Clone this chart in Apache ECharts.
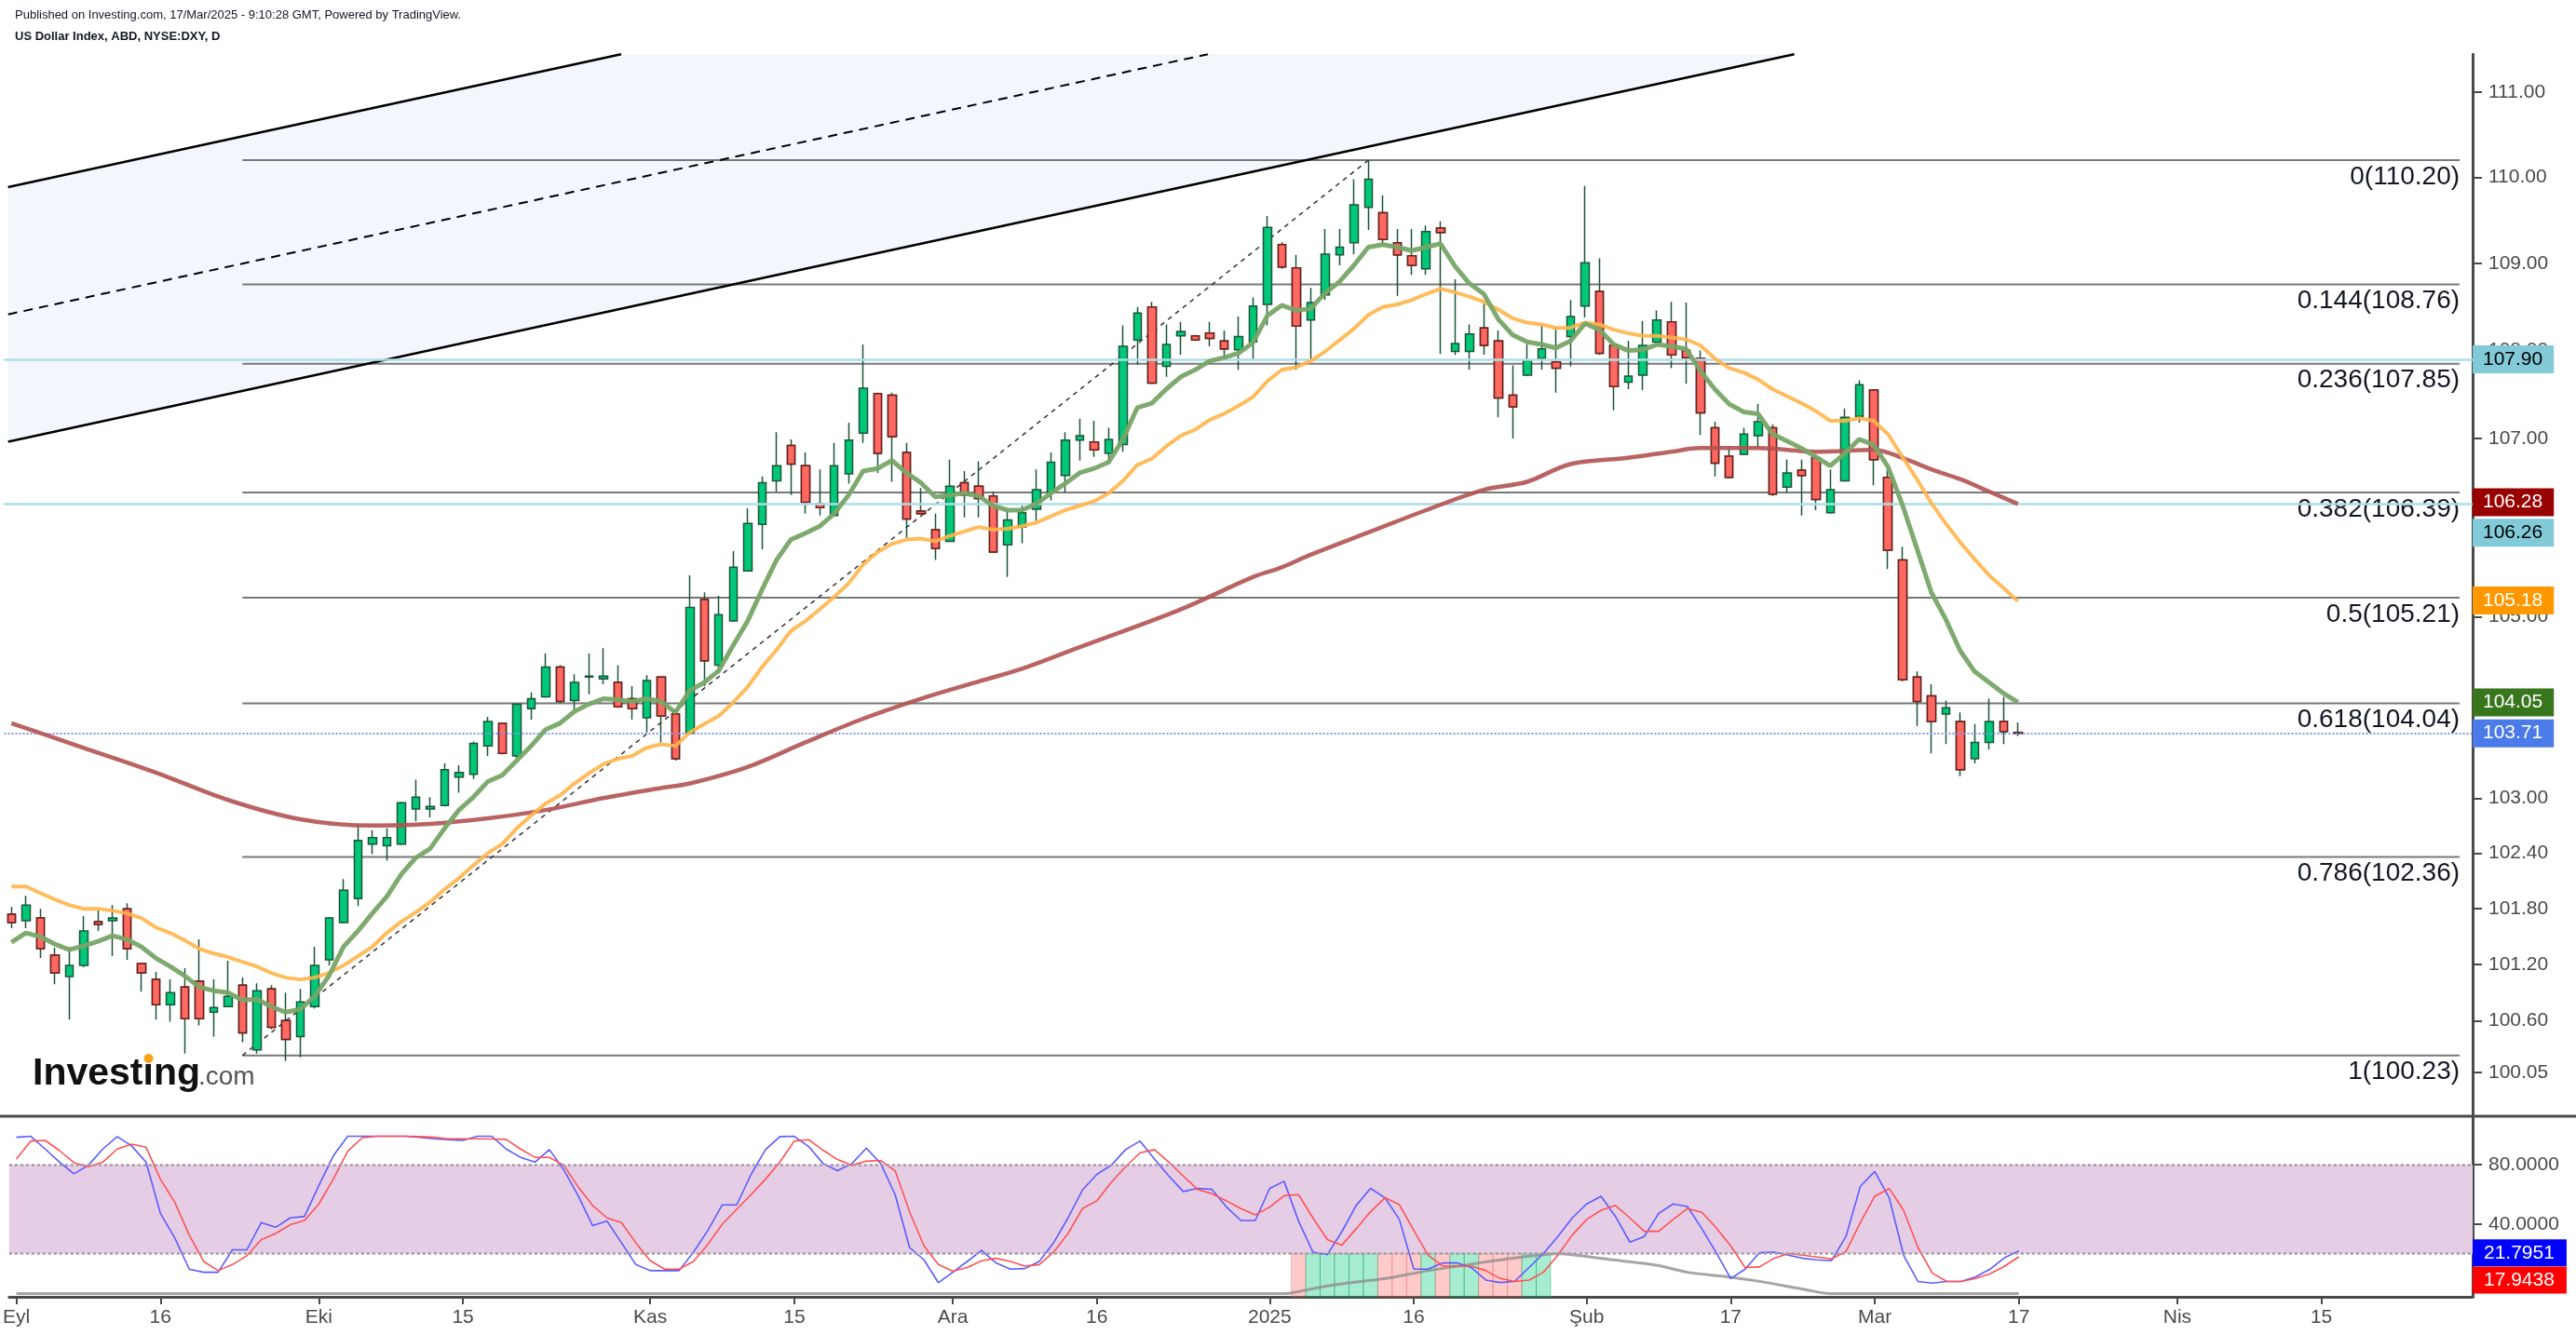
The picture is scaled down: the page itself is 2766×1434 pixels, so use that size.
<!DOCTYPE html>
<html>
<head>
<meta charset="utf-8">
<title>US Dollar Index</title>
<script src="https://cdn.jsdelivr.net/npm/echarts@6/dist/echarts.min.js"></script>
<style>
html,body{margin:0;padding:0;background:#ffffff;}
#chart{width:2766px;height:1434px;}
</style>
</head>
<body>
<div id="chart"></div>
<script>
// ---------------- DATA ----------------
const firstDay = '2024-09-02';
const closedDays = ['2025-01-01'];
const totalSlots = 171;

const opens = [101.74,101.67,101.70,101.30,101.07,101.19,101.66,101.67,101.80,101.21,
101.04,100.77,100.96,101.02,100.69,100.75,100.98,100.29,100.94,100.60,
100.43,100.75,101.25,101.65,101.91,102.50,102.48,102.50,102.88,102.88,
102.92,103.23,103.26,103.57,103.82,103.46,103.98,104.11,104.44,104.07,
104.33,104.31,104.27,104.09,103.88,104.33,103.92,103.71,105.19,104.46,
104.95,105.51,106.03,106.52,106.92,106.69,106.26,106.13,106.60,107.06,
107.51,107.49,106.84,106.18,105.97,105.84,106.50,106.46,106.35,105.80,
106.00,106.20,106.39,106.58,106.98,106.96,106.83,106.93,108.12,108.50,
107.82,108.17,108.17,108.20,108.11,108.01,108.10,108.53,109.22,108.95,
108.35,108.64,109.10,109.24,109.65,109.59,109.24,109.09,108.94,109.41,
107.99,107.99,108.26,108.11,107.49,107.72,107.91,107.87,108.16,108.51,
108.68,108.06,107.64,107.72,108.10,108.33,108.00,107.91,107.12,106.80,
106.82,107.03,107.12,106.45,106.64,106.78,106.16,106.52,107.25,107.55,
106.56,105.63,104.33,104.12,103.92,103.84,103.43,103.61,103.84,103.72];

const closes = [101.65,101.84,101.37,101.11,101.19,101.56,101.63,101.70,101.37,101.11,
100.77,100.90,100.62,100.62,100.74,100.86,100.47,100.92,100.53,100.40,
100.80,101.19,101.70,102.00,102.54,102.57,102.57,102.95,103.01,102.91,
103.31,103.28,103.60,103.84,103.49,104.03,104.09,104.44,104.06,104.27,
104.34,104.34,104.00,103.98,104.29,103.90,103.43,105.10,104.51,105.02,
105.55,106.04,106.50,106.69,106.71,106.28,106.22,106.69,106.98,107.57,
106.83,107.02,106.09,106.15,105.76,106.46,106.36,106.32,105.72,106.08,
106.16,106.42,106.73,106.98,107.03,106.87,106.99,108.05,108.43,107.63,
108.07,108.22,108.12,108.14,108.02,108.16,108.51,109.42,108.96,108.28,
108.55,109.11,109.19,109.68,109.98,109.28,109.10,108.98,109.37,109.36,
108.08,108.19,108.06,107.46,107.36,107.89,108.02,107.80,108.39,109.01,
107.97,107.59,107.71,108.06,108.35,107.95,107.92,107.29,106.72,106.56,
107.05,107.19,106.37,106.61,106.58,106.31,106.42,107.24,107.61,106.76,
105.74,104.30,104.06,103.84,103.99,103.31,103.61,103.84,103.73,103.71];

const lows = [101.59,101.59,101.27,100.99,100.61,101.17,101.56,101.29,101.25,100.91,
100.61,100.59,100.25,100.55,100.43,100.75,100.37,100.25,100.51,100.17,
100.21,100.73,101.19,101.64,101.83,102.39,102.32,102.49,102.75,102.79,
102.91,103.06,103.21,103.46,103.48,103.44,103.86,104.10,104.04,103.96,
104.14,104.25,103.99,103.86,103.72,103.61,103.41,103.70,104.23,104.37,
104.94,105.50,105.75,106.40,106.36,106.15,106.13,106.12,106.49,106.95,
106.61,106.51,105.88,106.15,105.63,105.84,106.11,106.11,105.71,105.44,
105.82,106.07,106.30,106.39,106.75,106.79,106.73,106.85,107.84,107.62,
107.70,107.95,108.11,108.05,107.91,107.78,107.90,108.29,108.94,107.78,
107.88,108.58,108.98,109.11,109.39,109.22,108.63,108.87,108.87,107.96,
107.95,107.78,107.95,107.24,107.00,107.71,107.78,107.52,107.82,108.38,
107.95,107.32,107.56,107.55,108.09,107.80,107.62,107.04,106.57,106.55,
106.81,106.90,106.35,106.39,106.13,106.19,106.15,106.51,107.18,106.47,
105.53,104.28,103.79,103.49,103.59,103.24,103.38,103.53,103.59,103.68];

const highs = [101.82,101.94,101.80,101.38,101.39,101.72,101.78,101.84,101.86,101.21,
101.12,101.04,101.16,101.47,101.04,101.24,101.06,101.00,100.98,100.90,
100.94,101.39,101.71,102.12,102.71,102.65,102.67,102.96,103.20,103.01,
103.38,103.36,103.62,103.89,103.83,104.04,104.16,104.59,104.46,104.36,
104.59,104.65,104.46,104.23,104.35,104.33,103.96,105.46,105.27,105.23,
105.73,106.21,106.57,107.07,106.99,106.84,106.65,106.95,107.18,108.07,
107.52,107.52,106.95,106.44,106.15,106.76,106.63,106.74,106.40,106.19,
106.24,106.65,106.84,107.07,107.22,107.20,107.12,108.29,108.50,108.56,
108.30,108.33,108.18,108.33,108.23,108.39,108.61,109.55,109.25,109.10,
108.72,109.40,109.40,109.98,110.20,109.79,109.40,109.40,109.44,109.49,
108.82,108.30,108.54,108.23,107.83,108.07,108.31,108.27,108.58,109.90,
109.06,108.07,108.11,108.34,108.46,108.56,108.55,108.00,107.19,106.91,
107.12,107.39,107.16,106.76,106.76,106.81,106.65,107.34,107.66,107.56,
106.65,105.78,104.39,104.25,104.07,103.94,103.81,104.09,104.11,103.83];

const maFast = [101.44,101.54,101.50,101.42,101.36,101.40,101.45,101.51,101.47,101.39,
101.27,101.18,101.08,100.96,100.92,100.90,100.82,100.83,100.75,100.69,
100.72,100.86,101.08,101.39,101.56,101.75,101.93,102.17,102.35,102.45,
102.67,102.87,103.01,103.18,103.25,103.41,103.57,103.75,103.82,103.95,
104.03,104.09,104.08,104.06,104.09,104.06,103.94,104.18,104.27,104.40,
104.68,104.95,105.30,105.63,105.86,105.93,106.01,106.15,106.36,106.63,
106.66,106.75,106.61,106.50,106.34,106.36,106.38,106.35,106.24,106.19,
106.19,106.26,106.38,106.49,106.61,106.66,106.73,106.99,107.35,107.40,
107.56,107.70,107.78,107.88,107.92,107.97,108.09,108.40,108.52,108.46,
108.48,108.66,108.79,108.98,109.19,109.22,109.19,109.15,109.19,109.23,
108.97,108.77,108.65,108.36,108.18,108.10,108.07,108.03,108.11,108.31,
108.24,108.07,108.00,108.01,108.07,108.05,108.02,107.77,107.56,107.39,
107.30,107.28,107.05,106.97,106.89,106.79,106.69,106.83,106.99,106.93,
106.68,106.25,105.76,105.27,104.97,104.62,104.39,104.27,104.15,104.05];

const maMid = [102.04,102.04,101.97,101.90,101.84,101.80,101.80,101.78,101.75,101.70,
101.60,101.54,101.46,101.37,101.32,101.28,101.23,101.18,101.11,101.06,
101.04,101.06,101.11,101.19,101.29,101.39,101.54,101.66,101.76,101.87,
102.01,102.13,102.27,102.40,102.50,102.67,102.81,102.94,103.03,103.16,
103.27,103.37,103.43,103.46,103.55,103.59,103.57,103.72,103.81,103.90,
104.05,104.22,104.44,104.63,104.84,104.95,105.08,105.22,105.37,105.58,
105.72,105.81,105.86,105.87,105.84,105.90,105.95,106.00,105.97,105.98,
106.01,106.05,106.12,106.19,106.24,106.29,106.38,106.52,106.70,106.77,
106.91,107.03,107.10,107.21,107.28,107.37,107.47,107.65,107.78,107.81,
107.88,107.99,108.12,108.25,108.41,108.50,108.53,108.58,108.65,108.71,
108.67,108.62,108.56,108.47,108.37,108.32,108.30,108.26,108.26,108.32,
108.30,108.24,108.20,108.17,108.17,108.15,108.13,108.06,107.91,107.80,
107.75,107.67,107.56,107.48,107.40,107.31,107.20,107.20,107.23,107.20,
107.05,106.79,106.54,106.27,106.04,105.83,105.64,105.46,105.32,105.17];

const maSlowIdx = [0,5,10,15,20,25,29,33,37,41,45,47,51,55,59,63,67,70,74,81,86,88,90,94,98,102,105,108,112,115,117,121,125,129,131,133,135,137,139];
const maSlowVal = [103.82,103.55,103.28,102.98,102.77,102.70,102.72,102.78,102.87,103.00,
103.11,103.16,103.34,103.61,103.87,104.09,104.28,104.42,104.66,105.08,
105.44,105.55,105.69,105.94,106.19,106.42,106.51,106.71,106.78,106.85,
106.89,106.89,106.85,106.87,106.78,106.65,106.54,106.40,106.26];

const stochK = [98.4,99.1,90.5,81.7,73.8,79.6,90.5,98.9,92.6,81.7,
47.2,30.5,9.6,7.5,7.5,22.6,22.6,41.0,37.8,44.1,
45.1,66.0,85.9,99.1,99.1,99.1,99.1,99.1,98.4,97.4,
96.8,96.3,99.1,99.1,90.5,84.9,81.7,90.1,76.5,59.1,
38.9,42.0,27.4,12.7,8.6,8.6,8.6,21.1,35.7,52.9,
52.9,73.4,90.1,98.9,99.1,92.2,80.7,75.9,80.7,91.1,
80.7,59.8,24.2,15.9,0.5,7.5,14.8,22.2,13.8,9.6,
10.0,14.8,27.4,44.1,62.9,73.4,79.6,90.1,95.9,83.8,
72.3,61.9,64.0,63.3,51.4,42.4,42.4,64.0,68.8,42.0,
21.1,19.4,34.7,52.5,64.0,57.7,43.1,9.6,9.6,13.8,
13.8,10.7,2.3,0.6,1.3,10.7,20.1,31.6,44.1,53.5,
58.7,45.1,27.8,31.6,47.2,53.5,51.8,36.8,20.7,3.3,
9.6,20.7,21.1,19.0,16.9,15.9,15.3,31.6,65.4,75.4,
57.7,19.0,1.3,0.2,1.3,1.3,4.4,9.6,17.3,21.7951];

const stochD = [83.8,95.9,96.3,89.4,81.3,78.6,81.7,90.5,93.8,91.7,
70.2,54.5,32.6,14.8,8.6,12.7,18.6,29.5,33.6,39.5,
42.4,53.5,70.2,89.0,98.0,99.1,99.1,99.1,98.9,98.4,
97.4,97.4,97.4,97.2,97.0,90.5,84.9,84.9,79.6,65.0,
52.5,44.1,41.0,27.4,15.3,9.6,9.6,14.8,26.3,39.9,
49.9,59.8,70.2,81.7,95.9,96.8,89.7,83.4,79.6,82.3,
82.8,75.9,48.3,25.3,12.7,8.2,10.7,15.3,16.9,14.8,
11.7,12.7,21.1,33.6,50.4,55.6,68.1,78.6,88.0,90.1,
81.7,72.3,63.3,60.4,55.6,50.4,46.2,51.4,59.1,59.8,
44.1,29.5,25.7,36.8,48.3,57.7,53.1,35.7,19.0,11.7,
11.7,11.7,8.6,3.3,1.3,2.3,7.5,19.0,32.6,43.1,
49.3,52.5,44.1,35.1,35.1,43.1,50.4,47.9,37.4,25.3,
10.7,11.1,16.9,20.1,19.0,17.8,16.5,21.5,41.0,58.7,
63.9,49.3,24.2,6.9,1.3,1.3,3.3,6.5,11.5,17.9438];

const grayIdx = [0,88,90,92,95,98,101,104,107,108,111,114,116,119,121,124,126,139];
const grayVal = [-6.9,-6.9,-3.5,-0.3,3.3,8.6,13.0,17.1,20.0,19.4,15.7,12.0,7.5,4.2,1.4,-3.8,-6.9,-6.9];

const signalIdx = [89,90,91,92,93,94,95,96,97,98,99,100,101,102,103,104,105,106];
const signalDir = [-1,1,1,1,1,1,-1,-1,-1,1,-1,1,1,-1,-1,-1,1,1];

const fibLevels = [110.20,108.76,107.85,106.39,105.21,104.04,102.36,100.23];
const fibRatios = ['0','0.144','0.236','0.382','0.5','0.618','0.786','1'];
const fibAnchorIdx = [16, 94];
const fibEndIdx = 169.6;

const channelUpper = [[-0.23,109.886],[42.24,111.445]];
const channelMid   = [[-0.23,108.415],[82.89,111.445]];
const channelLower = [[-0.23,106.963],[123.51,111.445]];

const hLevels = [107.90, 106.26];
const lastPrice = 103.71;

const priceBadges = [107.90, 106.28, 106.26, 105.18, 104.05, 103.71];
const stochBadges = [21.7951, 17.9438];

const priceTicks = [111,110,109,108,107,106,105,104,103,102.4,101.8,101.2,100.6,100.05];
const stochTicks = [80,40];
const stochBand = [20,80];
const xTickIdx = [0,10,21,31,44,54,65,75,87,97,109,119,129,139,150,160];
const xTickText = ['Eyl','16','Eki','15','Kas','15','Ara','16','2025','16','Şub','17','Mar','17','Nis','15'];

// ---------------- BUILD ----------------
const FONT = "'Liberation Sans', Arial, Helvetica, sans-serif";
const dates = [];
(function(){
  let t = Date.parse(firstDay + 'T00:00:00Z');
  while (dates.length < totalSlots) {
    const d = new Date(t);
    const wd = d.getUTCDay();
    const s = d.toISOString().slice(0,10);
    if (wd !== 0 && wd !== 6 && closedDays.indexOf(s) < 0) dates.push(s);
    t += 86400000;
  }
})();

const candles = opens.map((o,i)=>[o, closes[i], lows[i], highs[i]]);
const downBodies = opens.map((o,i)=> closes[i] < o ? [o, closes[i], closes[i], o] : '-');
const labelAt = {};
xTickIdx.forEach((x,k)=>{ labelAt[x] = xTickText[k]; });
const showTick = (i)=> Object.prototype.hasOwnProperty.call(labelAt, i);

const yMin = 99.587, yMax = 111.445;
const sMin = -9.03, sMax = 112.6;

const priceBadgeStyle = [
  {bg:'#82cad8', fg:'#000000', dy:0},
  {bg:'#990000', fg:'#ffffff', dy:0},
  {bg:'#82cad8', fg:'#000000', dy:31},
  {bg:'#ff9800', fg:'#ffffff', dy:0},
  {bg:'#38761d', fg:'#ffffff', dy:0},
  {bg:'#4a7be9', fg:'#ffffff', dy:0}
];
const stochBadgeStyle = [
  {bg:'#0000ff', fg:'#ffffff', dy:2},
  {bg:'#ff0000', fg:'#ffffff', dy:25}
];

function badgeRenderer(vals, styles, digits){
  return function(params, api){
    const k = params.dataIndex;
    const st = styles[k];
    const y = api.coord([0, vals[k]])[1] + st.dy;
    const x = params.coordSys.x + params.coordSys.width;
    return {
      type:'text', x:x, y:y, z2:50,
      style:{text: vals[k].toFixed(digits), fill: st.fg, font: '21px ' + FONT,
        align:'left', verticalAlign:'middle', backgroundColor: st.bg,
        padding: digits === 2 ? [5,12,4,11] : [4,13,4,12]}
    };
  };
}

const chart = echarts.init(document.getElementById('chart'), null, {renderer:'canvas', width:2766, height:1434});

const option = {
  animation:false,
  backgroundColor:'#ffffff',
  textStyle:{fontFamily: FONT},
  grid:[
    {left:4.5, top:58.2, width:2650.5, height:1140.8},
    {left:4.5, top:1199, width:2650.5, height:194}
  ],
  xAxis:[
    {type:'category', gridIndex:0, data:dates, boundaryGap:true, show:false},
    {type:'category', gridIndex:1, data:dates, boundaryGap:true,
      axisLine:{show:true, onZero:false, lineStyle:{color:'#4a4a4a', width:3}},
      axisTick:{show:true, interval:(i)=>showTick(i), alignWithLabel:true, length:8, lineStyle:{color:'#4a4a4a', width:2}},
      axisLabel:{show:true, interval:(i)=>showTick(i), formatter:(v,i)=>labelAt[i] || '', fontSize:21, color:'#4a4a4a', margin:12, fontFamily:FONT},
      splitLine:{show:false}},
    {type:'value', gridIndex:0, min:-0.5, max:totalSlots-0.5, show:false}
  ],
  yAxis:[
    {type:'log', logBase:10, gridIndex:0, position:'right', min:yMin, max:yMax,
      axisLine:{show:true, onZero:false, lineStyle:{color:'#4a4a4a', width:3}},
      axisTick:{show:true, customValues:priceTicks, length:10, lineStyle:{color:'#4a4a4a', width:2}},
      axisLabel:{show:true, customValues:priceTicks, formatter:(v)=>Number(v).toFixed(2), fontSize:21, color:'#4a4a4a', margin:17, fontFamily:FONT},
      splitLine:{show:false}},
    {type:'value', gridIndex:1, position:'right', min:sMin, max:sMax,
      axisLine:{show:true, onZero:false, lineStyle:{color:'#4a4a4a', width:3}},
      axisTick:{show:true, customValues:stochTicks, length:10, lineStyle:{color:'#4a4a4a', width:2}},
      axisLabel:{show:true, customValues:stochTicks, formatter:(v)=>Number(v).toFixed(4), fontSize:21, color:'#4a4a4a', margin:17, fontFamily:FONT},
      splitLine:{show:false}}
  ],
  graphic:[
    {type:'text', x:16, y:16, z:100, style:{text:'Published on Investing.com, 17/Mar/2025 - 9:10:28 GMT, Powered by TradingView.', font:'13px ' + FONT, fill:'#131722', verticalAlign:'middle'}},
    {type:'text', x:16, y:39, z:100, style:{text:'US Dollar Index, ABD, NYSE:DXY, D', font:'bold 13px ' + FONT, fill:'#131722', verticalAlign:'middle'}},
    {type:'line', z:100, shape:{x1:0, y1:1199, x2:2766, y2:1199}, style:{stroke:'#4a4a4a', lineWidth:3}},
    {type:'text', x:35, y:1174, z:100, style:{text:'Investing', font:'bold 41px ' + FONT, fill:'#111111', verticalAlign:'bottom'}},
    {type:'text', x:213, y:1171, z:100, style:{text:'.com', font:'28px ' + FONT, fill:'#555555', verticalAlign:'bottom'}},
    {type:'circle', z:101, shape:{cx:159.5, cy:1137, r:5}, style:{fill:'#f7a21b'}}
  ],
  series:[
    // channel fill
    {type:'custom', name:'channel', xAxisIndex:2, yAxisIndex:0, z:1, silent:true, clip:true,
      data:[[0, 105]],
      renderItem:(params, api)=>{
        const pts = [channelUpper[0], channelUpper[1], channelLower[1], channelLower[0]].map(p=>api.coord(p));
        return {type:'polygon', shape:{points:pts}, style:{fill:'#f4f6fd'}};
      }},
    {type:'line', xAxisIndex:2, yAxisIndex:0, data:channelUpper, showSymbol:false, silent:true, z:2,
      lineStyle:{color:'#000000', width:2.5}},
    {type:'line', xAxisIndex:2, yAxisIndex:0, data:channelMid, showSymbol:false, silent:true, z:2,
      lineStyle:{color:'#000000', width:2, type:[10,7]}},
    {type:'line', xAxisIndex:2, yAxisIndex:0, data:channelLower, showSymbol:false, silent:true, z:2,
      lineStyle:{color:'#000000', width:2.5}},
    // fib levels
    {type:'custom', name:'fib', xAxisIndex:2, yAxisIndex:0, z:2, silent:true,
      data: fibLevels.map((v,k)=>[k, v]),
      renderItem:(params, api)=>{
        const k = params.dataIndex;
        const lvl = fibLevels[k];
        const a = api.coord([fibAnchorIdx[0], lvl]);
        const b = api.coord([fibEndIdx, lvl]);
        return {type:'group', children:[
          {type:'line', shape:{x1:a[0], y1:a[1], x2:b[0], y2:b[1]}, style:{stroke:'#787878', lineWidth:2}},
          {type:'text', x:b[0], y:b[1] + 18, style:{text: fibRatios[k] + '(' + lvl.toFixed(2) + ')', font:'28px ' + FONT, fill:'#131722', align:'right', verticalAlign:'middle'}}
        ]};
      }},
    {type:'line', xAxisIndex:2, yAxisIndex:0, showSymbol:false, silent:true, z:2,
      data: fibAnchorIdx.map((x,k)=>[x, k === 0 ? fibLevels[7] : fibLevels[0]]),
      lineStyle:{color:'#333333', width:1.5, type:[5,5]}},
    // candles
    {type:'candlestick', name:'DXY', xAxisIndex:0, yAxisIndex:0, z:3, data:candles, barWidth:9,
      itemStyle:{color:'#00c878', color0:'#ff6961', borderColor:'#1b5538', borderColor0:'#1b5538', borderWidth:1.5},
      markLine:{silent:true, symbol:['none','none'], label:{show:false}, animation:false,
        data:[
          {yAxis:hLevels[0], lineStyle:{color:'#addde7', width:2.5, type:'solid'}},
          {yAxis:hLevels[1], lineStyle:{color:'#addde7', width:2.5, type:'solid'}},
          {yAxis:lastPrice, lineStyle:{color:'#7f96ee', width:2, type:[2,2]}}
        ]}},
    {type:'candlestick', name:'down bodies', xAxisIndex:0, yAxisIndex:0, z:4, data:downBodies, barWidth:9, silent:true,
      itemStyle:{color:'#00c878', color0:'#ff6961', borderColor:'#1b5538', borderColor0:'#6e1c1c', borderWidth:1.5}},
    // moving averages
    {type:'line', xAxisIndex:0, yAxisIndex:0, data:maSlowIdx.map((x,k)=>[x, maSlowVal[k]]), showSymbol:false, smooth:0.35, silent:true, z:5,
      lineStyle:{color:'#b35252', width:4.5, opacity:0.9}},
    {type:'line', xAxisIndex:0, yAxisIndex:0, data:maMid, showSymbol:false, silent:true, z:5,
      lineStyle:{color:'#ffb54a', width:4, opacity:0.9}},
    {type:'line', xAxisIndex:0, yAxisIndex:0, data:maFast, showSymbol:false, silent:true, z:5,
      lineStyle:{color:'#78a567', width:5, opacity:0.95}},
    // price badges
    {type:'custom', xAxisIndex:0, yAxisIndex:0, z:10, silent:true, clip:false,
      data: priceBadges.map(v=>[0, v]),
      renderItem: badgeRenderer(priceBadges, priceBadgeStyle, 2)},
    // stochastic panel
    {type:'custom', xAxisIndex:1, yAxisIndex:1, z:1, silent:true,
      data: signalIdx.map((x,k)=>[x, signalDir[k]]),
      renderItem:(params, api)=>{
        const k = params.dataIndex;
        const top = api.coord([signalIdx[k], stochBand[0]]);
        const w = api.size([1, 0])[0];
        const cs = params.coordSys;
        const up = signalDir[k] > 0;
        return {type:'rect', shape:{x: top[0] - w/2, y: top[1], width: w, height: cs.y + cs.height - top[1]},
          style:{fill: up ? 'rgba(0,200,120,0.35)' : 'rgba(255,80,80,0.3)', stroke: up ? 'rgba(0,150,90,0.35)' : 'rgba(220,90,90,0.3)', lineWidth:1}};
      }},
    {type:'line', name:'%K', xAxisIndex:1, yAxisIndex:1, data:stochK, showSymbol:false, silent:true, z:3,
      lineStyle:{color:'#5c5cff', width:1.6},
      markArea:{silent:true, itemStyle:{color:'#e5cde6'}, data:[[{yAxis:stochBand[0]},{yAxis:stochBand[1]}]]},
      markLine:{silent:true, symbol:['none','none'], label:{show:false},
        lineStyle:{color:'#a39ca3', width:2.5, type:[3,3]},
        data:[{yAxis:stochBand[0]},{yAxis:stochBand[1]}]}},
    {type:'line', name:'%D', xAxisIndex:1, yAxisIndex:1, data:stochD, showSymbol:false, silent:true, z:3,
      lineStyle:{color:'#ff5252', width:1.6}},
    {type:'line', xAxisIndex:1, yAxisIndex:1, data:grayIdx.map((x,k)=>[x, grayVal[k]]), showSymbol:false, smooth:0.3, silent:true, z:2,
      lineStyle:{color:'#8e8e8e', width:3, opacity:0.8}},
    {type:'custom', xAxisIndex:1, yAxisIndex:1, z:10, silent:true, clip:false,
      data: stochBadges.map(v=>[0, v]),
      renderItem: badgeRenderer(stochBadges, stochBadgeStyle, 4)}
  ]
};
chart.setOption(option);
</script>
</body>
</html>
